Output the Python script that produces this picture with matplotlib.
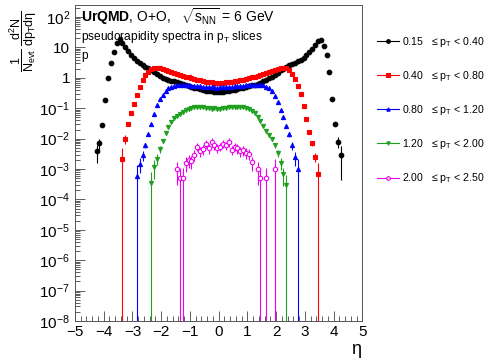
import numpy as np
import matplotlib
matplotlib.use('Agg')
import matplotlib.pyplot as plt
from matplotlib.lines import Line2D
from matplotlib.ticker import LogLocator, FuncFormatter, MultipleLocator

plt.rcParams['font.family'] = ['Liberation Sans', 'DejaVu Sans']
plt.rcParams['mathtext.fontset'] = 'custom'
plt.rcParams['mathtext.rm'] = 'Liberation Sans'
plt.rcParams['mathtext.it'] = 'Liberation Sans:italic'
plt.rcParams['mathtext.bf'] = 'Liberation Sans:bold'
plt.rcParams['mathtext.default'] = 'regular'

# pT slices
slice_labels = ['0.15   \u2264 p$_{T}$ < 0.40',
                '0.40   \u2264 p$_{T}$ < 0.80',
                '0.80   \u2264 p$_{T}$ < 1.20',
                '1.20   \u2264 p$_{T}$ < 2.00',
                '2.00   \u2264 p$_{T}$ < 2.50']

# eta bins (width 0.1), first and last bin centre of each slice
eta_black = np.round(np.arange(-4.25, 4.26, 0.1), 2)
eta_red = np.round(np.arange(-3.35, 3.46, 0.1), 2)
eta_blue = np.round(np.arange(-2.85, 2.76, 0.1), 2)
eta_green = np.round(np.arange(-2.35, 2.36, 0.1), 2)
eta_magenta = np.round(np.arange(-1.45, 1.96, 0.1), 2)

y_black = [0.004, 0.007, 0.028, 0.19, 1.0, 3.0, 7.0, 14, 19, 14, 10.5, 7.5, 5.6, 4.5,
           3.7, 3.1, 2.7, 2.35, 2.05, 1.8, 1.55, 1.32, 1.15, 1.02, 0.92, 0.85, 0.8, 0.76,
           0.71, 0.66, 0.62, 0.58, 0.55, 0.52, 0.48, 0.45, 0.42, 0.40, 0.38, 0.37, 0.36,
           0.355, 0.35,
           0.35, 0.355, 0.36, 0.37, 0.39, 0.41, 0.43, 0.45, 0.48, 0.51, 0.54, 0.57, 0.6,
           0.64, 0.69, 0.76, 0.85, 0.96, 1.1, 1.28, 1.5, 1.75, 2.0, 2.3, 2.6, 2.9, 3.2,
           3.6, 4.0, 4.6, 5.5, 7.0, 9.0, 12, 16, 18, 11, 5.5, 1.6, 0.2, 0.03, 0.008, 0.003]
err_black = [0.6, 0.4, 0.15, 0.05] + [0.01] * 78 + [0.05, 0.15, 0.4, 0.85]

y_red = [0.0022, 0.01, 0.03, 0.07, 0.14, 0.28, 0.5, 0.82, 1.25, 1.6, 1.9, 2.1, 2.15,
         2.05, 1.95, 1.85, 1.72, 1.6, 1.47, 1.36, 1.26, 1.17, 1.1, 1.03, 0.97, 0.91,
         0.86, 0.82, 0.78, 0.75, 0.73, 0.71, 0.7, 0.7,
         0.7, 0.7, 0.71, 0.73, 0.75, 0.77, 0.8, 0.83, 0.87, 0.92, 0.98, 1.04, 1.1, 1.17,
         1.26, 1.36, 1.46, 1.56, 1.66, 1.78, 1.92, 2.05, 2.15, 2.05, 1.75, 1.3, 0.9,
         0.55, 0.3, 0.12, 0.045, 0.016, 0.007, 0.0025, 0.0007]
err_red = [1.2, 0.35, 0.15, 0.08, 0.04] + [0.01] * 59 + [0.04, 0.08, 0.15, 0.3, 1.2]

y_blue = [0.0006, 0.0015, 0.0028, 0.006, 0.014, 0.03, 0.065, 0.13, 0.2, 0.28, 0.37,
          0.45, 0.52, 0.56, 0.58, 0.59, 0.59, 0.58, 0.57, 0.56, 0.55, 0.54, 0.53, 0.52,
          0.51, 0.5, 0.49, 0.49, 0.48,
          0.49, 0.49, 0.5, 0.51, 0.52, 0.53, 0.54, 0.55, 0.56, 0.57, 0.58, 0.59, 0.59,
          0.6, 0.59, 0.57, 0.52, 0.45, 0.37, 0.26, 0.16, 0.09, 0.05, 0.026, 0.014,
          0.006, 0.0025, 0.001]
err_blue = [1.2, 0.5, 0.35, 0.2, 0.1, 0.05] + [0.01] * 45 + [0.05, 0.1, 0.2, 0.3, 0.5, 1.2]

y_green = [0.00035, 0.0012, 0.0022, 0.0045, 0.0085, 0.015, 0.024, 0.035, 0.047, 0.057,
           0.067, 0.077, 0.087, 0.096, 0.104, 0.112, 0.109, 0.113, 0.107, 0.103, 0.099,
           0.097, 0.1, 0.096,
           0.095, 0.1, 0.102, 0.106, 0.11, 0.112, 0.114, 0.11, 0.107, 0.1, 0.092, 0.082,
           0.068, 0.052, 0.037, 0.026, 0.018, 0.013, 0.0095, 0.006, 0.0033, 0.0016,
           0.0007, 0.0003]
err_green = [1.2, 0.6, 0.4, 0.25, 0.15, 0.1, 0.06] + [0.02] * 34 + [0.06, 0.1, 0.15, 0.25, 0.4, 0.6, 1.2]

nan = np.nan
y_magenta = [0.001, 0.0005, 0.0005, 0.0016, 0.002, 0.0018, 0.003, 0.0055, 0.0038, 0.0045,
             0.0068, 0.0048, 0.0078, 0.006, 0.005, 0.0055, 0.0068, 0.006, 0.0078, 0.0043,
             0.0055, 0.0048, 0.0038, 0.0042, 0.0035, 0.0032, 0.0017, nan, 0.001, 0.0005,
             nan, 0.0005, nan, nan, 0.001]
err_magenta = [0.7, 1.2, 1.2, 0.5, 0.45, 0.45, 0.4, 0.3, 0.35, 0.35,
               0.3, 0.35, 0.3, 0.3, 0.35, 0.3, 0.3, 0.3, 0.3, 0.35,
               0.3, 0.35, 0.35, 0.35, 0.4, 0.4, 0.5, 0, 0.7, 1.2,
               0, 1.2, 0, 0, 1.2]

series = [
    (eta_black, y_black, err_black, 'black', 'o', 'black', 3.3),
    (eta_red, y_red, err_red, '#ff0000', 's', '#ff0000', 2.8),
    (eta_blue, y_blue, err_blue, '#0000ff', '^', '#0000ff', 3.0),
    (eta_green, y_green, err_green, '#1fa01f', 'v', '#1fa01f', 3.0),
    (eta_magenta, y_magenta, err_magenta, '#ee00ee', 'o', 'white', 3.2),
]

fig = plt.figure(figsize=(4.89, 3.60), dpi=100)
ax = fig.add_axes([75 / 489, 1 - 321 / 360, 287.5 / 489, 316 / 360])

handles = []
for eta, vals, rel, col, mk, face, ms in series:
    v = np.array(vals, dtype=float)
    e = v * np.array(rel, dtype=float)
    lo = np.where(v - e > 0, e, v - 1e-12)
    ax.errorbar(eta, v, yerr=[lo, e], fmt=mk, color=col, mfc=face, mec=col,
                ms=ms, mew=0.8, elinewidth=0.8, capsize=0, ls='none')
    handles.append(Line2D([], [], color=col, marker=mk, mfc=face, mec=col, ms=ms * 0.8,
                          mew=0.8, lw=0.8))

ax.set_yscale('log')
ax.set_xlim(-5, 5)
ax.set_ylim(1e-8, 250)

ax.xaxis.set_major_locator(MultipleLocator(1))
ax.xaxis.set_minor_locator(MultipleLocator(0.2))
ax.yaxis.set_major_locator(LogLocator(base=10, numticks=30))
ax.yaxis.set_minor_locator(LogLocator(base=10, subs=np.arange(2, 10), numticks=300))


def ylab(val, pos):
    p = int(round(np.log10(val)))
    if p == 0:
        return '1'
    if p == 1:
        return '10'
    return '$10^{%d}$' % p


ax.yaxis.set_major_formatter(FuncFormatter(ylab))
ax.xaxis.set_major_formatter(FuncFormatter(lambda v, p: '%d' % v if v >= 0 else '\u2212%d' % -v))
ax.tick_params(which='both', direction='in', top=False, right=False, labelsize=11,
               width=0.6, color='#444444')
ax.tick_params(which='major', length=7)
ax.tick_params(which='minor', length=3.5)
ax.tick_params(axis='x', pad=3)
ax.tick_params(axis='y', pad=3.5)
for s in ax.spines.values():
    s.set_linewidth(0.7)
    s.set_color('#555555')

ax.text(0.022, 0.962, r'$\mathbf{UrQMD}$, O+O,   $\sqrt{s_{NN}}$ = 6 GeV',
        transform=ax.transAxes, fontsize=10, va='center', ha='left')
ax.text(0.022, 0.90, r'pseudorapidity spectra in p$_{T}$ slices',
        transform=ax.transAxes, fontsize=8.6, va='center', ha='left')
ax.text(0.022, 0.84, 'p', transform=ax.transAxes, fontsize=8.6, va='center', ha='left')

fig.text(23 / 489, 1 - 41 / 360, r'$\dfrac{1}{N_{evt}}\ \dfrac{d^{2}N}{dp_{T}d\eta}$',
         rotation=90, fontsize=9, ha='center', va='center')
fig.text(356 / 489, 1 - 350 / 360, '\u03b7', fontsize=13, ha='center', va='center')

fig.legend(handles, slice_labels, loc='upper left', bbox_to_anchor=(377 / 489, 1 - 35 / 360),
           bbox_transform=fig.transFigure, frameon=False, fontsize=7.6, labelspacing=1.9,
           handlelength=2.1, handletextpad=0.3, borderpad=0, borderaxespad=0)

fig.savefig('out.png', dpi=100)
